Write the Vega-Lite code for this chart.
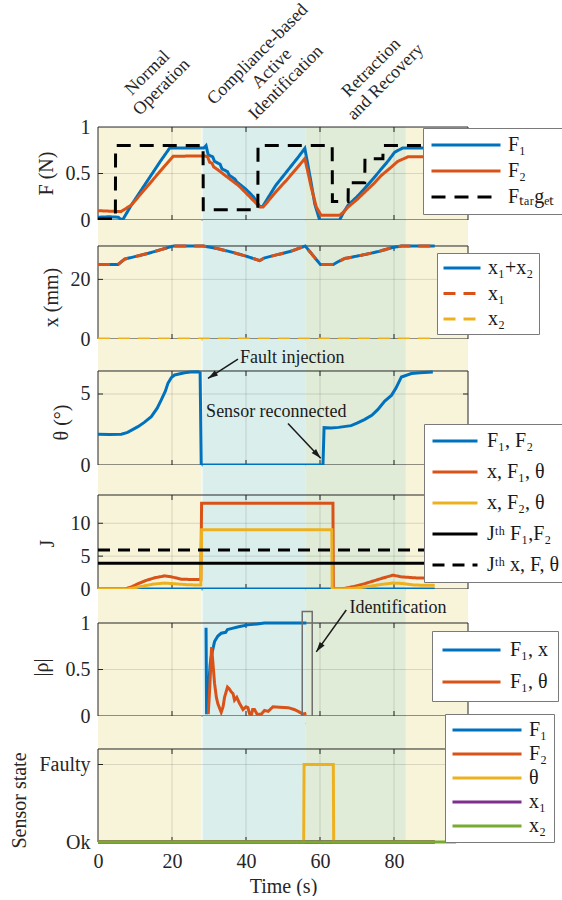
{
"$schema":"https://vega.github.io/schema/vega-lite/v6.json",
"background":"white",
"padding":{"left":9,"top":0,"right":0,"bottom":0},
"spacing":0,
"bounds":"flush",
"config":{
 "view":{"stroke":null},
 "font":"Liberation Serif",
 "axis":{"labelFont":"Liberation Serif","labelFontSize":20,"labelColor":"#262626","titleFont":"Liberation Serif","titleFontSize":20,"titleFontWeight":"normal","titleColor":"#262626","domain":false,"ticks":false,"grid":false,"labelPadding":8,"titlePadding":9,"labelFlush":false,"labelOverlap":false},
 "legend":{"labelFont":"Liberation Serif","labelFontSize":20,"labelColor":"#1a1a1a","symbolType":"stroke","symbolStrokeWidth":3,"fillColor":"#ffffff","strokeColor":"#7a7a7a","clipHeight":20,"labelLimit":300},
 "tick":{"thickness":1,"opacity":1,"color":"#262626"}
},
"resolve":{"scale":{"x":"independent","y":"independent","color":"independent","strokeDash":"independent","fill":"independent"},"legend":{"color":"independent","strokeDash":"independent"},"axis":{"x":"independent","y":"independent"}},
"datasets":{
 "phases":[{"a":0,"b":28.0,"p":"n"},{"a":28.25,"b":56,"p":"c"},{"a":56,"b":83.2,"p":"r"},{"a":83.2,"b":100,"p":"m"}],
 "xt":[{"g":20},{"g":40},{"g":60},{"g":80}],
 "f":[
  {"s":"F₁","t":0,"v":0.03},{"s":"F₁","t":3,"v":0.035},{"s":"F₁","t":5.5,"v":0.03},{"s":"F₁","t":6.2,"v":0.005},{"s":"F₁","t":6.8,"v":0.01},{"s":"F₁","t":9,"v":0.16},{"s":"F₁","t":12,"v":0.34},{"s":"F₁","t":15,"v":0.52},{"s":"F₁","t":17,"v":0.64},{"s":"F₁","t":19.4,"v":0.775},{"s":"F₁","t":28.6,"v":0.775},{"s":"F₁","t":29.2,"v":0.8},{"s":"F₁","t":29.8,"v":0.7},{"s":"F₁","t":31,"v":0.68},{"s":"F₁","t":31.5,"v":0.63},{"s":"F₁","t":33,"v":0.6},{"s":"F₁","t":33.5,"v":0.55},{"s":"F₁","t":35,"v":0.52},{"s":"F₁","t":35.5,"v":0.48},{"s":"F₁","t":37,"v":0.44},{"s":"F₁","t":37.5,"v":0.41},{"s":"F₁","t":40,"v":0.33},{"s":"F₁","t":42,"v":0.25},{"s":"F₁","t":43.7,"v":0.145},{"s":"F₁","t":44.5,"v":0.145},{"s":"F₁","t":45.2,"v":0.19},{"s":"F₁","t":48,"v":0.37},{"s":"F₁","t":51,"v":0.52},{"s":"F₁","t":54,"v":0.67},{"s":"F₁","t":55.9,"v":0.77},{"s":"F₁","t":56.6,"v":0.62},{"s":"F₁","t":57.7,"v":0.38},{"s":"F₁","t":58.6,"v":0.17},{"s":"F₁","t":59.9,"v":0},{"s":"F₁","t":65.3,"v":0},{"s":"F₁","t":66.2,"v":0.07},{"s":"F₁","t":67.6,"v":0.16},{"s":"F₁","t":70,"v":0.25},{"s":"F₁","t":72.1,"v":0.34},{"s":"F₁","t":74.5,"v":0.45},{"s":"F₁","t":76.6,"v":0.55},{"s":"F₁","t":78.5,"v":0.64},{"s":"F₁","t":80.2,"v":0.73},{"s":"F₁","t":82.4,"v":0.775},{"s":"F₁","t":91,"v":0.775},
  {"s":"F₂","t":0,"v":0.1},{"s":"F₂","t":6.2,"v":0.09},{"s":"F₂","t":7,"v":0.11},{"s":"F₂","t":9,"v":0.16},{"s":"F₂","t":12,"v":0.3},{"s":"F₂","t":15,"v":0.44},{"s":"F₂","t":18,"v":0.58},{"s":"F₂","t":20.3,"v":0.685},{"s":"F₂","t":28.8,"v":0.69},{"s":"F₂","t":29.6,"v":0.68},{"s":"F₂","t":30.2,"v":0.62},{"s":"F₂","t":30.8,"v":0.61},{"s":"F₂","t":31.3,"v":0.57},{"s":"F₂","t":32.4,"v":0.54},{"s":"F₂","t":34,"v":0.49},{"s":"F₂","t":36,"v":0.43},{"s":"F₂","t":38,"v":0.37},{"s":"F₂","t":40,"v":0.29},{"s":"F₂","t":42,"v":0.21},{"s":"F₂","t":43.7,"v":0.14},{"s":"F₂","t":44.6,"v":0.14},{"s":"F₂","t":45.5,"v":0.18},{"s":"F₂","t":48,"v":0.3},{"s":"F₂","t":51,"v":0.43},{"s":"F₂","t":54,"v":0.57},{"s":"F₂","t":55.9,"v":0.66},{"s":"F₂","t":56.7,"v":0.52},{"s":"F₂","t":57.7,"v":0.34},{"s":"F₂","t":59,"v":0.14},{"s":"F₂","t":60.3,"v":0.05},{"s":"F₂","t":65.3,"v":0.05},{"s":"F₂","t":66.2,"v":0.08},{"s":"F₂","t":67.6,"v":0.14},{"s":"F₂","t":70,"v":0.22},{"s":"F₂","t":72.1,"v":0.3},{"s":"F₂","t":74.5,"v":0.39},{"s":"F₂","t":76.6,"v":0.48},{"s":"F₂","t":79,"v":0.56},{"s":"F₂","t":81,"v":0.63},{"s":"F₂","t":83.8,"v":0.68},{"s":"F₂","t":91,"v":0.68},
  {"s":"Fₜₐᵣgₑₜ","t":0,"v":0.01},{"s":"Fₜₐᵣgₑₜ","t":4.7,"v":0.01},{"s":"Fₜₐᵣgₑₜ","t":4.75,"v":0.8},{"s":"Fₜₐᵣgₑₜ","t":28.4,"v":0.8},{"s":"Fₜₐᵣgₑₜ","t":28.45,"v":0.11},{"s":"Fₜₐᵣgₑₜ","t":43.2,"v":0.11},{"s":"Fₜₐᵣgₑₜ","t":43.25,"v":0.8},{"s":"Fₜₐᵣgₑₜ","t":63.3,"v":0.8},{"s":"Fₜₐᵣgₑₜ","t":63.35,"v":0.2},{"s":"Fₜₐᵣgₑₜ","t":67.6,"v":0.2},{"s":"Fₜₐᵣgₑₜ","t":67.65,"v":0.4},{"s":"Fₜₐᵣgₑₜ","t":72.1,"v":0.4},{"s":"Fₜₐᵣgₑₜ","t":72.15,"v":0.66},{"s":"Fₜₐᵣgₑₜ","t":77,"v":0.66},{"s":"Fₜₐᵣgₑₜ","t":77.05,"v":0.8},{"s":"Fₜₐᵣgₑₜ","t":91,"v":0.8}
 ],
 "xd":[
  {"s":"x₁+x₂","t":0,"v":25},{"s":"x₁+x₂","t":5.4,"v":25},{"s":"x₁+x₂","t":7.2,"v":26.8},{"s":"x₁+x₂","t":13.5,"v":28.7},{"s":"x₁+x₂","t":19.8,"v":31.0},{"s":"x₁+x₂","t":20.5,"v":31.2},{"s":"x₁+x₂","t":28.4,"v":31.2},{"s":"x₁+x₂","t":32,"v":30.4},{"s":"x₁+x₂","t":36,"v":29.2},{"s":"x₁+x₂","t":40,"v":27.8},{"s":"x₁+x₂","t":43.7,"v":26.3},{"s":"x₁+x₂","t":45,"v":27.2},{"s":"x₁+x₂","t":48.5,"v":28.3},{"s":"x₁+x₂","t":52.3,"v":29.5},{"s":"x₁+x₂","t":56,"v":31.2},{"s":"x₁+x₂","t":60.1,"v":25},{"s":"x₁+x₂","t":63.6,"v":25},{"s":"x₁+x₂","t":65,"v":26},{"s":"x₁+x₂","t":66.7,"v":27},{"s":"x₁+x₂","t":72,"v":28.3},{"s":"x₁+x₂","t":76,"v":29.4},{"s":"x₁+x₂","t":79.3,"v":30.6},{"s":"x₁+x₂","t":82,"v":31.2},{"s":"x₁+x₂","t":91,"v":31.2},
  {"s":"x₁","t":0,"v":25},{"s":"x₁","t":5.4,"v":25},{"s":"x₁","t":7.2,"v":26.8},{"s":"x₁","t":13.5,"v":28.7},{"s":"x₁","t":19.8,"v":31.0},{"s":"x₁","t":20.5,"v":31.2},{"s":"x₁","t":28.4,"v":31.2},{"s":"x₁","t":32,"v":30.4},{"s":"x₁","t":36,"v":29.2},{"s":"x₁","t":40,"v":27.8},{"s":"x₁","t":43.7,"v":26.3},{"s":"x₁","t":45,"v":27.2},{"s":"x₁","t":48.5,"v":28.3},{"s":"x₁","t":52.3,"v":29.5},{"s":"x₁","t":56,"v":31.2},{"s":"x₁","t":60.1,"v":25},{"s":"x₁","t":63.6,"v":25},{"s":"x₁","t":65,"v":26},{"s":"x₁","t":66.7,"v":27},{"s":"x₁","t":72,"v":28.3},{"s":"x₁","t":76,"v":29.4},{"s":"x₁","t":79.3,"v":30.6},{"s":"x₁","t":82,"v":31.2},{"s":"x₁","t":91,"v":31.2},
  {"s":"x₂","t":0,"v":0},{"s":"x₂","t":91,"v":0}
 ],
 "th":[
  {"t":0,"v":2.16},{"t":3,"v":2.14},{"t":6.3,"v":2.17},{"t":8,"v":2.3},{"t":10.8,"v":2.7},{"t":12.5,"v":3.0},{"t":14.4,"v":3.4},{"t":16,"v":4.0},{"t":17.1,"v":4.58},{"t":18.2,"v":5.2},{"t":18.9,"v":5.75},{"t":19.8,"v":6.15},{"t":20.7,"v":6.34},{"t":23.4,"v":6.5},{"t":25,"v":6.55},{"t":27,"v":6.57},{"t":27.6,"v":6.5},{"t":27.9,"v":0.05},{"t":28.3,"v":0},{"t":60.8,"v":0},{"t":61.1,"v":2.63},{"t":63,"v":2.6},{"t":65,"v":2.65},{"t":68.4,"v":2.77},{"t":70,"v":2.95},{"t":72,"v":3.2},{"t":74,"v":3.5},{"t":75.6,"v":3.9},{"t":77.5,"v":4.5},{"t":79.3,"v":4.9},{"t":80.5,"v":5.4},{"t":82,"v":6.2},{"t":84.7,"v":6.44},{"t":87,"v":6.5},{"t":90.5,"v":6.55}
 ],
 "j":[
  {"s":"F₁, F₂","t":0,"v":0},{"s":"F₁, F₂","t":91,"v":0},
  {"s":"x, F₁, θ","t":0,"v":0},{"s":"x, F₁, θ","t":7.2,"v":0},{"s":"x, F₁, θ","t":9,"v":0.3},{"s":"x, F₁, θ","t":10.8,"v":0.8},{"s":"x, F₁, θ","t":13,"v":1.3},{"s":"x, F₁, θ","t":15.3,"v":1.7},{"s":"x, F₁, θ","t":18,"v":2.0},{"s":"x, F₁, θ","t":19.8,"v":1.85},{"s":"x, F₁, θ","t":22.5,"v":1.5},{"s":"x, F₁, θ","t":25,"v":1.45},{"s":"x, F₁, θ","t":27.8,"v":1.45},{"s":"x, F₁, θ","t":28,"v":13.05},{"s":"x, F₁, θ","t":63.5,"v":13.05},{"s":"x, F₁, θ","t":63.6,"v":0},{"s":"x, F₁, θ","t":65.8,"v":0},{"s":"x, F₁, θ","t":68.5,"v":0.3},{"s":"x, F₁, θ","t":72,"v":0.8},{"s":"x, F₁, θ","t":76.6,"v":1.6},{"s":"x, F₁, θ","t":79.7,"v":2.1},{"s":"x, F₁, θ","t":82,"v":1.85},{"s":"x, F₁, θ","t":85.6,"v":1.7},{"s":"x, F₁, θ","t":91,"v":1.6},
  {"s":"x, F₂, θ","t":0,"v":0},{"s":"x, F₂, θ","t":8,"v":0},{"s":"x, F₂, θ","t":10,"v":0.2},{"s":"x, F₂, θ","t":12.6,"v":0.5},{"s":"x, F₂, θ","t":15,"v":0.75},{"s":"x, F₂, θ","t":18,"v":0.9},{"s":"x, F₂, θ","t":20.7,"v":0.8},{"s":"x, F₂, θ","t":24,"v":0.65},{"s":"x, F₂, θ","t":27.8,"v":0.6},{"s":"x, F₂, θ","t":28,"v":9.0},{"s":"x, F₂, θ","t":63.2,"v":9.0},{"s":"x, F₂, θ","t":63.3,"v":0},{"s":"x, F₂, θ","t":66,"v":0},{"s":"x, F₂, θ","t":69,"v":0.1},{"s":"x, F₂, θ","t":72,"v":0.3},{"s":"x, F₂, θ","t":76.6,"v":0.7},{"s":"x, F₂, θ","t":79.7,"v":0.9},{"s":"x, F₂, θ","t":82,"v":0.85},{"s":"x, F₂, θ","t":85.6,"v":0.6},{"s":"x, F₂, θ","t":91,"v":0.55},
  {"s":"Jᵗʰ F₁,F₂","t":0,"v":3.9},{"s":"Jᵗʰ F₁,F₂","t":91,"v":3.9},
  {"s":"Jᵗʰ x, F, θ","t":0,"v":5.93},{"s":"Jᵗʰ x, F, θ","t":91,"v":5.93}
 ],
 "rho":[
  {"s":"F₁, x","t":29.2,"v":0.95},{"s":"F₁, x","t":29.35,"v":0.02},{"s":"F₁, x","t":29.8,"v":0.25},{"s":"F₁, x","t":30.3,"v":0.55},{"s":"F₁, x","t":30.6,"v":0.64},{"s":"F₁, x","t":31.5,"v":0.8},{"s":"F₁, x","t":32.4,"v":0.86},{"s":"F₁, x","t":33.3,"v":0.89},{"s":"F₁, x","t":34.5,"v":0.9},{"s":"F₁, x","t":35,"v":0.93},{"s":"F₁, x","t":36,"v":0.94},{"s":"F₁, x","t":38,"v":0.96},{"s":"F₁, x","t":40.5,"v":0.98},{"s":"F₁, x","t":43,"v":0.99},{"s":"F₁, x","t":45,"v":1.0},{"s":"F₁, x","t":56.3,"v":1.0},
  {"s":"F₁, θ","t":29.8,"v":0.02},{"s":"F₁, θ","t":30.2,"v":0.3},{"s":"F₁, θ","t":30.7,"v":0.74},{"s":"F₁, θ","t":31.0,"v":0.6},{"s":"F₁, θ","t":31.5,"v":0.35},{"s":"F₁, θ","t":32.0,"v":0.2},{"s":"F₁, θ","t":32.4,"v":0.13},{"s":"F₁, θ","t":33.3,"v":0.04},{"s":"F₁, θ","t":33.8,"v":0.1},{"s":"F₁, θ","t":34.2,"v":0.2},{"s":"F₁, θ","t":35,"v":0.31},{"s":"F₁, θ","t":35.5,"v":0.29},{"s":"F₁, θ","t":36,"v":0.26},{"s":"F₁, θ","t":36.5,"v":0.24},{"s":"F₁, θ","t":36.9,"v":0.17},{"s":"F₁, θ","t":37.5,"v":0.2},{"s":"F₁, θ","t":38.2,"v":0.14},{"s":"F₁, θ","t":39.2,"v":0.07},{"s":"F₁, θ","t":40,"v":0.1},{"s":"F₁, θ","t":40.5,"v":0.09},{"s":"F₁, θ","t":41,"v":0.02},{"s":"F₁, θ","t":41.4,"v":0},{"s":"F₁, θ","t":41.8,"v":0.07},{"s":"F₁, θ","t":42.3,"v":0.07},{"s":"F₁, θ","t":43,"v":0.02},{"s":"F₁, θ","t":44.1,"v":0.02},{"s":"F₁, θ","t":45,"v":0.06},{"s":"F₁, θ","t":46,"v":0.05},{"s":"F₁, θ","t":47.3,"v":0.1},{"s":"F₁, θ","t":49,"v":0.095},{"s":"F₁, θ","t":51.4,"v":0.09},{"s":"F₁, θ","t":53,"v":0.07},{"s":"F₁, θ","t":54.1,"v":0.05},{"s":"F₁, θ","t":55.4,"v":0.02},{"s":"F₁, θ","t":56.3,"v":0.03}
 ],
 "st":[
  {"s":"F₁","t":0,"v":0},{"s":"F₁","t":91,"v":0},
  {"s":"F₂","t":0,"v":0},{"s":"F₂","t":91,"v":0},
  {"s":"θ","t":0,"v":0},{"s":"θ","t":55.6,"v":0},{"s":"θ","t":55.7,"v":1},{"s":"θ","t":63.6,"v":1},{"s":"θ","t":63.7,"v":0},{"s":"θ","t":91,"v":0},
  {"s":"x₁","t":0,"v":0},{"s":"x₁","t":91,"v":0},
  {"s":"x₂","t":0,"v":0},{"s":"x₂","t":96.8,"v":0}
 ]
},
"vconcat":[
 {"width":370,"height":220,"layer":[
  {"data":{"name":"phases"},"mark":"rect","encoding":{
   "x":{"field":"a","type":"quantitative","scale":{"domain":[0,100],"nice":false,"zero":false},"axis":null},
   "x2":{"field":"b"},
   "y":{"datum":0,"type":"quantitative","scale":{"domain":[0,2.366],"nice":false,"zero":false},"axis":{"values":[0,0.5,1],"format":"~r","title":"F (N)","titleY":173}},
   "y2":{"datum":1},
   "fill":{"field":"p","type":"nominal","scale":{"domain":["n","c","r","m"],"range":["#F8F4D9","#DAEEEC","#E0ECD7","#F8F4D9"]},"legend":null}}},
  {"data":{"name":"xt"},"mark":{"type":"rule","color":"#262626","opacity":0.15,"strokeWidth":1},"encoding":{
   "x":{"field":"g","type":"quantitative","scale":{"domain":[0,100],"nice":false,"zero":false},"axis":null},
   "y":{"datum":0,"type":"quantitative","scale":{"domain":[0,2.366],"nice":false,"zero":false},"axis":{"values":[0,0.5,1],"format":"~r","title":"F (N)","titleY":173}},
   "y2":{"datum":1}}},
  {"data":{"values":[{"g":0.5}]},"mark":{"type":"rule","color":"#262626","opacity":0.15,"strokeWidth":1},"encoding":{
   "y":{"field":"g","type":"quantitative","scale":{"domain":[0,2.366],"nice":false,"zero":false},"axis":{"values":[0,0.5,1],"format":"~r","title":"F (N)","titleY":173}},
   "x":{"datum":0,"type":"quantitative","scale":{"domain":[0,100],"nice":false,"zero":false},"axis":null},
   "x2":{"datum":100}}},
  {"data":{"name":"xt"},"mark":{"type":"tick","orient":"vertical","size":5,"yOffset":-2.5},"encoding":{
   "x":{"field":"g","type":"quantitative","scale":{"domain":[0,100],"nice":false,"zero":false},"axis":null},
   "y":{"datum":0,"type":"quantitative","scale":{"domain":[0,2.366],"nice":false,"zero":false},"axis":{"values":[0,0.5,1],"format":"~r","title":"F (N)","titleY":173}}}},
  {"data":{"name":"xt"},"mark":{"type":"tick","orient":"vertical","size":5,"yOffset":2.5},"encoding":{
   "x":{"field":"g","type":"quantitative","scale":{"domain":[0,100],"nice":false,"zero":false},"axis":null},
   "y":{"datum":1,"type":"quantitative","scale":{"domain":[0,2.366],"nice":false,"zero":false},"axis":{"values":[0,0.5,1],"format":"~r","title":"F (N)","titleY":173}}}},
  {"data":{"values":[{"g":0.5}]},"mark":{"type":"tick","orient":"horizontal","size":5,"xOffset":2.5},"encoding":{
   "y":{"field":"g","type":"quantitative","scale":{"domain":[0,2.366],"nice":false,"zero":false},"axis":{"values":[0,0.5,1],"format":"~r","title":"F (N)","titleY":173}},
   "x":{"datum":0,"type":"quantitative","scale":{"domain":[0,100],"nice":false,"zero":false},"axis":null}}},
  {"data":{"values":[{"g":0.5}]},"mark":{"type":"tick","orient":"horizontal","size":5,"xOffset":-2.5},"encoding":{
   "y":{"field":"g","type":"quantitative","scale":{"domain":[0,2.366],"nice":false,"zero":false},"axis":{"values":[0,0.5,1],"format":"~r","title":"F (N)","titleY":173}},
   "x":{"datum":100,"type":"quantitative","scale":{"domain":[0,100],"nice":false,"zero":false},"axis":null}}},
  {"data":{"values":[{}]},"mark":{"type":"rect","filled":false,"color":"#262626","strokeWidth":1},"encoding":{
   "x":{"datum":0,"type":"quantitative","scale":{"domain":[0,100],"nice":false,"zero":false},"axis":null},"x2":{"datum":100},
   "y":{"datum":0,"type":"quantitative","scale":{"domain":[0,2.366],"nice":false,"zero":false},"axis":{"values":[0,0.5,1],"format":"~r","title":"F (N)","titleY":173}},"y2":{"datum":1}}},
  {"data":{"name":"f"},"mark":{"type":"line","strokeWidth":3},"encoding":{
   "x":{"field":"t","type":"quantitative","scale":{"domain":[0,100],"nice":false,"zero":false},"axis":null},
   "y":{"field":"v","type":"quantitative","scale":{"domain":[0,2.366],"nice":false,"zero":false},"axis":{"values":[0,0.5,1],"format":"~r","title":"F (N)","titleY":173}},
   "color":{"field":"s","type":"nominal","scale":{"domain":["F₁","F₂","Fₜₐᵣgₑₜ"],"range":["#0072BD","#D95319","#000000"]},"legend":{"title":null,"orient":"none","legendX":325,"legendY":128,"symbolSize":4761,"padding":7,"rowPadding":6,"labelOffset":6}},
   "strokeDash":{"field":"s","type":"nominal","scale":{"domain":["F₁","F₂","Fₜₐᵣgₑₜ"],"range":[[1,0],[1,0],[14,9]]},"legend":{"title":null,"orient":"none","legendX":325,"legendY":128,"symbolSize":4761,"padding":7,"rowPadding":6,"labelOffset":6}}}},
  {"data":{"values":[{"t":13.4,"v":1.58,"txt":"Normal\nOperation"},{"t":43.2,"v":1.78,"txt":"Compliance-based\nActive\nIdentification"},{"t":73.9,"v":1.635,"txt":"Retraction\nand Recovery"}]},
   "mark":{"type":"text","angle":315,"lineBreak":"\n","fontSize":18,"align":"center","baseline":"middle","color":"#262626","lineHeight":20,"font":"Liberation Serif"},
   "encoding":{
   "x":{"field":"t","type":"quantitative","scale":{"domain":[0,100],"nice":false,"zero":false},"axis":null},
   "y":{"field":"v","type":"quantitative","scale":{"domain":[0,2.366],"nice":false,"zero":false},"axis":{"values":[0,0.5,1],"format":"~r","title":"F (N)","titleY":173}},
   "text":{"field":"txt"}}}
 ]},
 {"width":370,"height":119,"layer":[
  {"data":{"name":"phases"},"mark":"rect","encoding":{
   "x":{"field":"a","type":"quantitative","scale":{"domain":[0,100],"nice":false,"zero":false},"axis":null},
   "x2":{"field":"b"},
   "y":{"datum":0,"type":"quantitative","scale":{"domain":[0,39.92],"nice":false,"zero":false},"axis":{"values":[0,20],"format":"~r","title":"x (mm)","titleY":77}},
   "y2":{"datum":39.92},
   "fill":{"field":"p","type":"nominal","scale":{"domain":["n","c","r","m"],"range":["#F8F4D9","#DAEEEC","#E0ECD7","#F8F4D9"]},"legend":null}}},
  {"data":{"name":"xt"},"mark":{"type":"rule","color":"#262626","opacity":0.15,"strokeWidth":1},"encoding":{
   "x":{"field":"g","type":"quantitative","scale":{"domain":[0,100],"nice":false,"zero":false},"axis":null},
   "y":{"datum":0,"type":"quantitative","scale":{"domain":[0,39.92],"nice":false,"zero":false},"axis":{"values":[0,20],"format":"~r","title":"x (mm)","titleY":77}},
   "y2":{"datum":31.2}}},
  {"data":{"values":[{"g":20}]},"mark":{"type":"rule","color":"#262626","opacity":0.15,"strokeWidth":1},"encoding":{
   "y":{"field":"g","type":"quantitative","scale":{"domain":[0,39.92],"nice":false,"zero":false},"axis":{"values":[0,20],"format":"~r","title":"x (mm)","titleY":77}},
   "x":{"datum":0,"type":"quantitative","scale":{"domain":[0,100],"nice":false,"zero":false},"axis":null},
   "x2":{"datum":100}}},
  {"data":{"name":"xt"},"mark":{"type":"tick","orient":"vertical","size":5,"yOffset":-2.5},"encoding":{
   "x":{"field":"g","type":"quantitative","scale":{"domain":[0,100],"nice":false,"zero":false},"axis":null},
   "y":{"datum":0,"type":"quantitative","scale":{"domain":[0,39.92],"nice":false,"zero":false},"axis":{"values":[0,20],"format":"~r","title":"x (mm)","titleY":77}}}},
  {"data":{"name":"xt"},"mark":{"type":"tick","orient":"vertical","size":5,"yOffset":2.5},"encoding":{
   "x":{"field":"g","type":"quantitative","scale":{"domain":[0,100],"nice":false,"zero":false},"axis":null},
   "y":{"datum":31.2,"type":"quantitative","scale":{"domain":[0,39.92],"nice":false,"zero":false},"axis":{"values":[0,20],"format":"~r","title":"x (mm)","titleY":77}}}},
  {"data":{"values":[{"g":20}]},"mark":{"type":"tick","orient":"horizontal","size":5,"xOffset":2.5},"encoding":{
   "y":{"field":"g","type":"quantitative","scale":{"domain":[0,39.92],"nice":false,"zero":false},"axis":{"values":[0,20],"format":"~r","title":"x (mm)","titleY":77}},
   "x":{"datum":0,"type":"quantitative","scale":{"domain":[0,100],"nice":false,"zero":false},"axis":null}}},
  {"data":{"values":[{"g":20}]},"mark":{"type":"tick","orient":"horizontal","size":5,"xOffset":-2.5},"encoding":{
   "y":{"field":"g","type":"quantitative","scale":{"domain":[0,39.92],"nice":false,"zero":false},"axis":{"values":[0,20],"format":"~r","title":"x (mm)","titleY":77}},
   "x":{"datum":100,"type":"quantitative","scale":{"domain":[0,100],"nice":false,"zero":false},"axis":null}}},
  {"data":{"values":[{}]},"mark":{"type":"rect","filled":false,"color":"#262626","strokeWidth":1},"encoding":{
   "x":{"datum":0,"type":"quantitative","scale":{"domain":[0,100],"nice":false,"zero":false},"axis":null},"x2":{"datum":100},
   "y":{"datum":0,"type":"quantitative","scale":{"domain":[0,39.92],"nice":false,"zero":false},"axis":{"values":[0,20],"format":"~r","title":"x (mm)","titleY":77}},"y2":{"datum":31.2}}},
  {"data":{"name":"xd"},"mark":{"type":"line","strokeWidth":3},"encoding":{
   "x":{"field":"t","type":"quantitative","scale":{"domain":[0,100],"nice":false,"zero":false},"axis":null},
   "y":{"field":"v","type":"quantitative","scale":{"domain":[0,39.92],"nice":false,"zero":false},"axis":{"values":[0,20],"format":"~r","title":"x (mm)","titleY":77}},
   "color":{"field":"s","type":"nominal","scale":{"domain":["x₁+x₂","x₁","x₂"],"range":["#0072BD","#D95319","#EDB120"]},"legend":{"title":null,"orient":"none","legendX":339,"legendY":33,"symbolSize":1369,"padding":5,"rowPadding":5.5,"labelOffset":6}},
   "strokeDash":{"field":"s","type":"nominal","scale":{"domain":["x₁+x₂","x₁","x₂"],"range":[[1,0],[12,8],[12,8]]},"legend":{"title":null,"orient":"none","legendX":339,"legendY":33,"symbolSize":1369,"padding":5,"rowPadding":5.5,"labelOffset":6}}}}
 ]},
 {"width":370,"height":126,"layer":[
  {"data":{"name":"phases"},"mark":"rect","encoding":{
   "x":{"field":"a","type":"quantitative","scale":{"domain":[0,100],"nice":false,"zero":false},"axis":null},
   "x2":{"field":"b"},
   "y":{"datum":0,"type":"quantitative","scale":{"domain":[0,8.873],"nice":false,"zero":false},"axis":{"values":[0,5],"format":"~r","title":"θ (°)","titleY":83}},
   "y2":{"datum":8.873},
   "fill":{"field":"p","type":"nominal","scale":{"domain":["n","c","r","m"],"range":["#F8F4D9","#DAEEEC","#E0ECD7","#F8F4D9"]},"legend":null}}},
  {"data":{"name":"xt"},"mark":{"type":"rule","color":"#262626","opacity":0.15,"strokeWidth":1},"encoding":{
   "x":{"field":"g","type":"quantitative","scale":{"domain":[0,100],"nice":false,"zero":false},"axis":null},
   "y":{"datum":0,"type":"quantitative","scale":{"domain":[0,8.873],"nice":false,"zero":false},"axis":{"values":[0,5],"format":"~r","title":"θ (°)","titleY":83}},
   "y2":{"datum":6.62}}},
  {"data":{"values":[{"g":5}]},"mark":{"type":"rule","color":"#262626","opacity":0.15,"strokeWidth":1},"encoding":{
   "y":{"field":"g","type":"quantitative","scale":{"domain":[0,8.873],"nice":false,"zero":false},"axis":{"values":[0,5],"format":"~r","title":"θ (°)","titleY":83}},
   "x":{"datum":0,"type":"quantitative","scale":{"domain":[0,100],"nice":false,"zero":false},"axis":null},
   "x2":{"datum":100}}},
  {"data":{"name":"xt"},"mark":{"type":"tick","orient":"vertical","size":5,"yOffset":-2.5},"encoding":{
   "x":{"field":"g","type":"quantitative","scale":{"domain":[0,100],"nice":false,"zero":false},"axis":null},
   "y":{"datum":0,"type":"quantitative","scale":{"domain":[0,8.873],"nice":false,"zero":false},"axis":{"values":[0,5],"format":"~r","title":"θ (°)","titleY":83}}}},
  {"data":{"name":"xt"},"mark":{"type":"tick","orient":"vertical","size":5,"yOffset":2.5},"encoding":{
   "x":{"field":"g","type":"quantitative","scale":{"domain":[0,100],"nice":false,"zero":false},"axis":null},
   "y":{"datum":6.62,"type":"quantitative","scale":{"domain":[0,8.873],"nice":false,"zero":false},"axis":{"values":[0,5],"format":"~r","title":"θ (°)","titleY":83}}}},
  {"data":{"values":[{"g":5}]},"mark":{"type":"tick","orient":"horizontal","size":5,"xOffset":2.5},"encoding":{
   "y":{"field":"g","type":"quantitative","scale":{"domain":[0,8.873],"nice":false,"zero":false},"axis":{"values":[0,5],"format":"~r","title":"θ (°)","titleY":83}},
   "x":{"datum":0,"type":"quantitative","scale":{"domain":[0,100],"nice":false,"zero":false},"axis":null}}},
  {"data":{"values":[{"g":5}]},"mark":{"type":"tick","orient":"horizontal","size":5,"xOffset":-2.5},"encoding":{
   "y":{"field":"g","type":"quantitative","scale":{"domain":[0,8.873],"nice":false,"zero":false},"axis":{"values":[0,5],"format":"~r","title":"θ (°)","titleY":83}},
   "x":{"datum":100,"type":"quantitative","scale":{"domain":[0,100],"nice":false,"zero":false},"axis":null}}},
  {"data":{"values":[{}]},"mark":{"type":"rect","filled":false,"color":"#262626","strokeWidth":1},"encoding":{
   "x":{"datum":0,"type":"quantitative","scale":{"domain":[0,100],"nice":false,"zero":false},"axis":null},"x2":{"datum":100},
   "y":{"datum":0,"type":"quantitative","scale":{"domain":[0,8.873],"nice":false,"zero":false},"axis":{"values":[0,5],"format":"~r","title":"θ (°)","titleY":83}},"y2":{"datum":6.62}}},
  {"data":{"name":"th"},"mark":{"type":"line","strokeWidth":3,"color":"#0072BD"},"encoding":{
   "x":{"field":"t","type":"quantitative","scale":{"domain":[0,100],"nice":false,"zero":false},"axis":null},
   "y":{"field":"v","type":"quantitative","scale":{"domain":[0,8.873],"nice":false,"zero":false},"axis":{"values":[0,5],"format":"~r","title":"θ (°)","titleY":83}}}},
  {"data":{"values":[{"t":52.5,"v":7.54,"txt":"Fault injection"},{"t":48.2,"v":3.75,"txt":"Sensor reconnected"}]},
   "mark":{"type":"text","fontSize":18,"align":"center","baseline":"middle","color":"#1a1a1a","font":"Liberation Serif"},
   "encoding":{
   "x":{"field":"t","type":"quantitative","scale":{"domain":[0,100],"nice":false,"zero":false},"axis":null},
   "y":{"field":"v","type":"quantitative","scale":{"domain":[0,8.873],"nice":false,"zero":false},"axis":{"values":[0,5],"format":"~r","title":"θ (°)","titleY":83}},
   "text":{"field":"txt"}}},
  {"data":{"values":[{"t":37.84,"v":7.46,"t2":29.73,"v2":6.1},{"t":51.35,"v":2.93,"t2":60.19,"v2":0.47}]},
   "mark":{"type":"rule","color":"#1a1a1a","strokeWidth":1.5},
   "encoding":{
   "x":{"field":"t","type":"quantitative","scale":{"domain":[0,100],"nice":false,"zero":false},"axis":null},
   "y":{"field":"v","type":"quantitative","scale":{"domain":[0,8.873],"nice":false,"zero":false},"axis":{"values":[0,5],"format":"~r","title":"θ (°)","titleY":83}},
   "x2":{"field":"t2"},"y2":{"field":"v2"}}},
  {"data":{"values":[{"t":29.73,"v":6.1}]},
   "mark":{"type":"point","shape":"M0,0L0.6,2L-0.6,2Z","filled":true,"color":"#1a1a1a","opacity":1,"size":100,"angle":237},
   "encoding":{
   "x":{"field":"t","type":"quantitative","scale":{"domain":[0,100],"nice":false,"zero":false},"axis":null},
   "y":{"field":"v","type":"quantitative","scale":{"domain":[0,8.873],"nice":false,"zero":false},"axis":{"values":[0,5],"format":"~r","title":"θ (°)","titleY":83}}}},
  {"data":{"values":[{"t":60.19,"v":0.47}]},
   "mark":{"type":"point","shape":"M0,0L0.6,2L-0.6,2Z","filled":true,"color":"#1a1a1a","opacity":1,"size":100,"angle":137},
   "encoding":{
   "x":{"field":"t","type":"quantitative","scale":{"domain":[0,100],"nice":false,"zero":false},"axis":null},
   "y":{"field":"v","type":"quantitative","scale":{"domain":[0,8.873],"nice":false,"zero":false},"axis":{"values":[0,5],"format":"~r","title":"θ (°)","titleY":83}}}}
 ]},
 {"width":370,"height":124,"layer":[
  {"data":{"name":"phases"},"mark":"rect","encoding":{
   "x":{"field":"a","type":"quantitative","scale":{"domain":[0,100],"nice":false,"zero":false},"axis":null},
   "x2":{"field":"b"},
   "y":{"datum":0,"type":"quantitative","scale":{"domain":[0,18.865],"nice":false,"zero":false},"axis":{"values":[0,5,10],"format":"~r","title":"J","titleY":78,"titlePadding":13}},
   "y2":{"datum":18.865},
   "fill":{"field":"p","type":"nominal","scale":{"domain":["n","c","r","m"],"range":["#F8F4D9","#DAEEEC","#E0ECD7","#F8F4D9"]},"legend":null}}},
  {"data":{"name":"xt"},"mark":{"type":"rule","color":"#262626","opacity":0.15,"strokeWidth":1},"encoding":{
   "x":{"field":"g","type":"quantitative","scale":{"domain":[0,100],"nice":false,"zero":false},"axis":null},
   "y":{"datum":0,"type":"quantitative","scale":{"domain":[0,18.865],"nice":false,"zero":false},"axis":{"values":[0,5,10],"format":"~r","title":"J","titleY":78,"titlePadding":13}},
   "y2":{"datum":14.3}}},
  {"data":{"values":[{"g":5},{"g":10}]},"mark":{"type":"rule","color":"#262626","opacity":0.15,"strokeWidth":1},"encoding":{
   "y":{"field":"g","type":"quantitative","scale":{"domain":[0,18.865],"nice":false,"zero":false},"axis":{"values":[0,5,10],"format":"~r","title":"J","titleY":78,"titlePadding":13}},
   "x":{"datum":0,"type":"quantitative","scale":{"domain":[0,100],"nice":false,"zero":false},"axis":null},
   "x2":{"datum":100}}},
  {"data":{"name":"xt"},"mark":{"type":"tick","orient":"vertical","size":5,"yOffset":-2.5},"encoding":{
   "x":{"field":"g","type":"quantitative","scale":{"domain":[0,100],"nice":false,"zero":false},"axis":null},
   "y":{"datum":0,"type":"quantitative","scale":{"domain":[0,18.865],"nice":false,"zero":false},"axis":{"values":[0,5,10],"format":"~r","title":"J","titleY":78,"titlePadding":13}}}},
  {"data":{"name":"xt"},"mark":{"type":"tick","orient":"vertical","size":5,"yOffset":2.5},"encoding":{
   "x":{"field":"g","type":"quantitative","scale":{"domain":[0,100],"nice":false,"zero":false},"axis":null},
   "y":{"datum":14.3,"type":"quantitative","scale":{"domain":[0,18.865],"nice":false,"zero":false},"axis":{"values":[0,5,10],"format":"~r","title":"J","titleY":78,"titlePadding":13}}}},
  {"data":{"values":[{"g":5},{"g":10}]},"mark":{"type":"tick","orient":"horizontal","size":5,"xOffset":2.5},"encoding":{
   "y":{"field":"g","type":"quantitative","scale":{"domain":[0,18.865],"nice":false,"zero":false},"axis":{"values":[0,5,10],"format":"~r","title":"J","titleY":78,"titlePadding":13}},
   "x":{"datum":0,"type":"quantitative","scale":{"domain":[0,100],"nice":false,"zero":false},"axis":null}}},
  {"data":{"values":[{"g":5},{"g":10}]},"mark":{"type":"tick","orient":"horizontal","size":5,"xOffset":-2.5},"encoding":{
   "y":{"field":"g","type":"quantitative","scale":{"domain":[0,18.865],"nice":false,"zero":false},"axis":{"values":[0,5,10],"format":"~r","title":"J","titleY":78,"titlePadding":13}},
   "x":{"datum":100,"type":"quantitative","scale":{"domain":[0,100],"nice":false,"zero":false},"axis":null}}},
  {"data":{"values":[{}]},"mark":{"type":"rect","filled":false,"color":"#262626","strokeWidth":1},"encoding":{
   "x":{"datum":0,"type":"quantitative","scale":{"domain":[0,100],"nice":false,"zero":false},"axis":null},"x2":{"datum":100},
   "y":{"datum":0,"type":"quantitative","scale":{"domain":[0,18.865],"nice":false,"zero":false},"axis":{"values":[0,5,10],"format":"~r","title":"J","titleY":78,"titlePadding":13}},"y2":{"datum":14.3}}},
  {"data":{"name":"j"},"mark":{"type":"line","strokeWidth":3},"encoding":{
   "x":{"field":"t","type":"quantitative","scale":{"domain":[0,100],"nice":false,"zero":false},"axis":null},
   "y":{"field":"v","type":"quantitative","scale":{"domain":[0,18.865],"nice":false,"zero":false},"axis":{"values":[0,5,10],"format":"~r","title":"J","titleY":78,"titlePadding":13}},
   "color":{"field":"s","type":"nominal","scale":{"domain":["F₁, F₂","x, F₁, θ","x, F₂, θ","Jᵗʰ F₁,F₂","Jᵗʰ x, F, θ"],"range":["#0072BD","#D95319","#EDB120","#000000","#000000"]},"legend":{"title":null,"orient":"none","legendX":326,"legendY":-41,"symbolSize":2025,"padding":7,"rowPadding":11,"labelOffset":8}},
   "strokeDash":{"field":"s","type":"nominal","scale":{"domain":["F₁, F₂","x, F₁, θ","x, F₂, θ","Jᵗʰ F₁,F₂","Jᵗʰ x, F, θ"],"range":[[1,0],[1,0],[1,0],[1,0],[12,8]]},"legend":{"title":null,"orient":"none","legendX":326,"legendY":-41,"symbolSize":2025,"padding":7,"rowPadding":11,"labelOffset":8}}}}
 ]},
 {"width":370,"height":127,"layer":[
  {"data":{"name":"phases"},"mark":"rect","encoding":{
   "x":{"field":"a","type":"quantitative","scale":{"domain":[0,100],"nice":false,"zero":false},"axis":null},
   "x2":{"field":"b"},
   "y":{"datum":0,"type":"quantitative","scale":{"domain":[0,1.3656],"nice":false,"zero":false},"axis":{"values":[0,0.5,1],"format":"~r","title":"|ρ|","titleY":78,"titlePadding":14}},
   "y2":{"datum":1.3656},
   "fill":{"field":"p","type":"nominal","scale":{"domain":["n","c","r","m"],"range":["#F8F4D9","#DAEEEC","#E0ECD7","#F8F4D9"]},"legend":null}}},
  {"data":{"name":"xt"},"mark":{"type":"rule","color":"#262626","opacity":0.15,"strokeWidth":1},"encoding":{
   "x":{"field":"g","type":"quantitative","scale":{"domain":[0,100],"nice":false,"zero":false},"axis":null},
   "y":{"datum":0,"type":"quantitative","scale":{"domain":[0,1.3656],"nice":false,"zero":false},"axis":{"values":[0,0.5,1],"format":"~r","title":"|ρ|","titleY":78,"titlePadding":14}},
   "y2":{"datum":1}}},
  {"data":{"values":[{"g":0.5}]},"mark":{"type":"rule","color":"#262626","opacity":0.15,"strokeWidth":1},"encoding":{
   "y":{"field":"g","type":"quantitative","scale":{"domain":[0,1.3656],"nice":false,"zero":false},"axis":{"values":[0,0.5,1],"format":"~r","title":"|ρ|","titleY":78,"titlePadding":14}},
   "x":{"datum":0,"type":"quantitative","scale":{"domain":[0,100],"nice":false,"zero":false},"axis":null},
   "x2":{"datum":100}}},
  {"data":{"name":"xt"},"mark":{"type":"tick","orient":"vertical","size":5,"yOffset":-2.5},"encoding":{
   "x":{"field":"g","type":"quantitative","scale":{"domain":[0,100],"nice":false,"zero":false},"axis":null},
   "y":{"datum":0,"type":"quantitative","scale":{"domain":[0,1.3656],"nice":false,"zero":false},"axis":{"values":[0,0.5,1],"format":"~r","title":"|ρ|","titleY":78,"titlePadding":14}}}},
  {"data":{"name":"xt"},"mark":{"type":"tick","orient":"vertical","size":5,"yOffset":2.5},"encoding":{
   "x":{"field":"g","type":"quantitative","scale":{"domain":[0,100],"nice":false,"zero":false},"axis":null},
   "y":{"datum":1,"type":"quantitative","scale":{"domain":[0,1.3656],"nice":false,"zero":false},"axis":{"values":[0,0.5,1],"format":"~r","title":"|ρ|","titleY":78,"titlePadding":14}}}},
  {"data":{"values":[{"g":0.5}]},"mark":{"type":"tick","orient":"horizontal","size":5,"xOffset":2.5},"encoding":{
   "y":{"field":"g","type":"quantitative","scale":{"domain":[0,1.3656],"nice":false,"zero":false},"axis":{"values":[0,0.5,1],"format":"~r","title":"|ρ|","titleY":78,"titlePadding":14}},
   "x":{"datum":0,"type":"quantitative","scale":{"domain":[0,100],"nice":false,"zero":false},"axis":null}}},
  {"data":{"values":[{"g":0.5}]},"mark":{"type":"tick","orient":"horizontal","size":5,"xOffset":-2.5},"encoding":{
   "y":{"field":"g","type":"quantitative","scale":{"domain":[0,1.3656],"nice":false,"zero":false},"axis":{"values":[0,0.5,1],"format":"~r","title":"|ρ|","titleY":78,"titlePadding":14}},
   "x":{"datum":100,"type":"quantitative","scale":{"domain":[0,100],"nice":false,"zero":false},"axis":null}}},
  {"data":{"values":[{}]},"mark":{"type":"rect","filled":false,"color":"#262626","strokeWidth":1},"encoding":{
   "x":{"datum":0,"type":"quantitative","scale":{"domain":[0,100],"nice":false,"zero":false},"axis":null},"x2":{"datum":100},
   "y":{"datum":0,"type":"quantitative","scale":{"domain":[0,1.3656],"nice":false,"zero":false},"axis":{"values":[0,0.5,1],"format":"~r","title":"|ρ|","titleY":78,"titlePadding":14}},"y2":{"datum":1}}},
  {"data":{"name":"rho"},"mark":{"type":"line","strokeWidth":3},"encoding":{
   "x":{"field":"t","type":"quantitative","scale":{"domain":[0,100],"nice":false,"zero":false},"axis":null},
   "y":{"field":"v","type":"quantitative","scale":{"domain":[0,1.3656],"nice":false,"zero":false},"axis":{"values":[0,0.5,1],"format":"~r","title":"|ρ|","titleY":78,"titlePadding":14}},
   "color":{"field":"s","type":"nominal","scale":{"domain":["F₁, x","F₁, θ"],"range":["#0072BD","#D95319"]},"legend":{"title":null,"orient":"none","legendX":334,"legendY":42,"symbolSize":3364,"padding":9,"rowPadding":12,"labelOffset":8}}}},
  {"data":{"values":[{"a":55.2,"b":57.9,"lo":-0.08,"hi":1.125}]},"mark":{"type":"rect","filled":false,"color":"#6e6e6e","strokeWidth":1.5},"encoding":{
   "x":{"field":"a","type":"quantitative","scale":{"domain":[0,100],"nice":false,"zero":false},"axis":null},"x2":{"field":"b"},
   "y":{"field":"lo","type":"quantitative","scale":{"domain":[0,1.3656],"nice":false,"zero":false},"axis":{"values":[0,0.5,1],"format":"~r","title":"|ρ|","titleY":78,"titlePadding":14}},"y2":{"field":"hi"}}},
  {"data":{"values":[{"t":81.08,"v":1.158,"txt":"Identification"}]},
   "mark":{"type":"text","fontSize":18,"align":"center","baseline":"middle","color":"#1a1a1a","font":"Liberation Serif"},
   "encoding":{
   "x":{"field":"t","type":"quantitative","scale":{"domain":[0,100],"nice":false,"zero":false},"axis":null},
   "y":{"field":"v","type":"quantitative","scale":{"domain":[0,1.3656],"nice":false,"zero":false},"axis":{"values":[0,0.5,1],"format":"~r","title":"|ρ|","titleY":78,"titlePadding":14}},
   "text":{"field":"txt"}}},
  {"data":{"values":[{"t":67.1,"v":1.14,"t2":59.0,"v2":0.69}]},
   "mark":{"type":"rule","color":"#1a1a1a","strokeWidth":1.5},
   "encoding":{
   "x":{"field":"t","type":"quantitative","scale":{"domain":[0,100],"nice":false,"zero":false},"axis":null},
   "y":{"field":"v","type":"quantitative","scale":{"domain":[0,1.3656],"nice":false,"zero":false},"axis":{"values":[0,0.5,1],"format":"~r","title":"|ρ|","titleY":78,"titlePadding":14}},
   "x2":{"field":"t2"},"y2":{"field":"v2"}}},
  {"data":{"values":[{"t":59.0,"v":0.69}]},
   "mark":{"type":"point","shape":"M0,0L0.6,2L-0.6,2Z","filled":true,"color":"#1a1a1a","opacity":1,"size":100,"angle":216},
   "encoding":{
   "x":{"field":"t","type":"quantitative","scale":{"domain":[0,100],"nice":false,"zero":false},"axis":null},
   "y":{"field":"v","type":"quantitative","scale":{"domain":[0,1.3656],"nice":false,"zero":false},"axis":{"values":[0,0.5,1],"format":"~r","title":"|ρ|","titleY":78,"titlePadding":14}}}}
 ]},
 {"width":370,"height":126,"layer":[
  {"data":{"name":"phases"},"mark":"rect","encoding":{
   "x":{"field":"a","type":"quantitative","scale":{"domain":[0,100],"nice":false,"zero":false},"axis":{"values":[0,20,40,60,80],"title":"Time (s)","labelPadding":9,"titlePadding":5}},
   "x2":{"field":"b"},
   "y":{"datum":0,"type":"quantitative","scale":{"domain":[0,1.6258],"nice":false,"zero":false},"axis":{"values":[0,1],"labelExpr":"datum.value == 1 ? 'Faulty' : 'Ok'","title":"Sensor state","titleY":84}},
   "y2":{"datum":1.6258},
   "fill":{"field":"p","type":"nominal","scale":{"domain":["n","c","r","m"],"range":["#F8F4D9","#DAEEEC","#E0ECD7","#F8F4D9"]},"legend":null}}},
  {"data":{"name":"xt"},"mark":{"type":"rule","color":"#262626","opacity":0.15,"strokeWidth":1},"encoding":{
   "x":{"field":"g","type":"quantitative","scale":{"domain":[0,100],"nice":false,"zero":false},"axis":{"values":[0,20,40,60,80],"title":"Time (s)","labelPadding":9,"titlePadding":5}},
   "y":{"datum":0,"type":"quantitative","scale":{"domain":[0,1.6258],"nice":false,"zero":false},"axis":{"values":[0,1],"labelExpr":"datum.value == 1 ? 'Faulty' : 'Ok'","title":"Sensor state","titleY":84}},
   "y2":{"datum":1.2}}},
  {"data":{"values":[{"g":1}]},"mark":{"type":"rule","color":"#262626","opacity":0.15,"strokeWidth":1},"encoding":{
   "y":{"field":"g","type":"quantitative","scale":{"domain":[0,1.6258],"nice":false,"zero":false},"axis":{"values":[0,1],"labelExpr":"datum.value == 1 ? 'Faulty' : 'Ok'","title":"Sensor state","titleY":84}},
   "x":{"datum":0,"type":"quantitative","scale":{"domain":[0,100],"nice":false,"zero":false},"axis":{"values":[0,20,40,60,80],"title":"Time (s)","labelPadding":9,"titlePadding":5}},
   "x2":{"datum":100}}},
  {"data":{"name":"xt"},"mark":{"type":"tick","orient":"vertical","size":5,"yOffset":-2.5},"encoding":{
   "x":{"field":"g","type":"quantitative","scale":{"domain":[0,100],"nice":false,"zero":false},"axis":{"values":[0,20,40,60,80],"title":"Time (s)","labelPadding":9,"titlePadding":5}},
   "y":{"datum":0,"type":"quantitative","scale":{"domain":[0,1.6258],"nice":false,"zero":false},"axis":{"values":[0,1],"labelExpr":"datum.value == 1 ? 'Faulty' : 'Ok'","title":"Sensor state","titleY":84}}}},
  {"data":{"name":"xt"},"mark":{"type":"tick","orient":"vertical","size":5,"yOffset":2.5},"encoding":{
   "x":{"field":"g","type":"quantitative","scale":{"domain":[0,100],"nice":false,"zero":false},"axis":{"values":[0,20,40,60,80],"title":"Time (s)","labelPadding":9,"titlePadding":5}},
   "y":{"datum":1.2,"type":"quantitative","scale":{"domain":[0,1.6258],"nice":false,"zero":false},"axis":{"values":[0,1],"labelExpr":"datum.value == 1 ? 'Faulty' : 'Ok'","title":"Sensor state","titleY":84}}}},
  {"data":{"values":[{"g":1}]},"mark":{"type":"tick","orient":"horizontal","size":5,"xOffset":2.5},"encoding":{
   "y":{"field":"g","type":"quantitative","scale":{"domain":[0,1.6258],"nice":false,"zero":false},"axis":{"values":[0,1],"labelExpr":"datum.value == 1 ? 'Faulty' : 'Ok'","title":"Sensor state","titleY":84}},
   "x":{"datum":0,"type":"quantitative","scale":{"domain":[0,100],"nice":false,"zero":false},"axis":{"values":[0,20,40,60,80],"title":"Time (s)","labelPadding":9,"titlePadding":5}}}},
  {"data":{"values":[{"g":1}]},"mark":{"type":"tick","orient":"horizontal","size":5,"xOffset":-2.5},"encoding":{
   "y":{"field":"g","type":"quantitative","scale":{"domain":[0,1.6258],"nice":false,"zero":false},"axis":{"values":[0,1],"labelExpr":"datum.value == 1 ? 'Faulty' : 'Ok'","title":"Sensor state","titleY":84}},
   "x":{"datum":100,"type":"quantitative","scale":{"domain":[0,100],"nice":false,"zero":false},"axis":{"values":[0,20,40,60,80],"title":"Time (s)","labelPadding":9,"titlePadding":5}}}},
  {"data":{"values":[{}]},"mark":{"type":"rect","filled":false,"color":"#262626","strokeWidth":1},"encoding":{
   "x":{"datum":0,"type":"quantitative","scale":{"domain":[0,100],"nice":false,"zero":false},"axis":{"values":[0,20,40,60,80],"title":"Time (s)","labelPadding":9,"titlePadding":5}},"x2":{"datum":100},
   "y":{"datum":0,"type":"quantitative","scale":{"domain":[0,1.6258],"nice":false,"zero":false},"axis":{"values":[0,1],"labelExpr":"datum.value == 1 ? 'Faulty' : 'Ok'","title":"Sensor state","titleY":84}},"y2":{"datum":1.2}}},
  {"data":{"name":"st"},"mark":{"type":"line","strokeWidth":3},"encoding":{
   "x":{"field":"t","type":"quantitative","scale":{"domain":[0,100],"nice":false,"zero":false},"axis":{"values":[0,20,40,60,80],"title":"Time (s)","labelPadding":9,"titlePadding":5}},
   "y":{"field":"v","type":"quantitative","scale":{"domain":[0,1.6258],"nice":false,"zero":false},"axis":{"values":[0,1],"labelExpr":"datum.value == 1 ? 'Faulty' : 'Ok'","title":"Sensor state","titleY":84}},
   "color":{"field":"s","type":"nominal","scale":{"domain":["F₁","F₂","θ","x₁","x₂"],"range":["#0072BD","#D95319","#EDB120","#7E2F8E","#77AC30"]},"legend":{"title":null,"orient":"none","legendX":347,"legendY":-2,"symbolSize":4761,"padding":6,"rowPadding":4,"labelOffset":6}}}}
 ]}
]
}
